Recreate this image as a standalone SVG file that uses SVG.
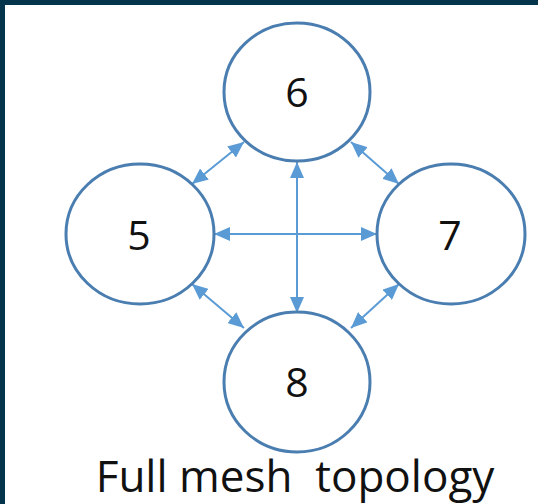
<svg xmlns="http://www.w3.org/2000/svg" width="538" height="504" viewBox="0 0 538 504">
<style>
.node{fill:#ffffff;stroke:#4a7db0;stroke-width:3}
.lbl{font-family:"Open Sans","Liberation Sans",sans-serif;font-size:41px;fill:#111111;text-anchor:middle}
.title{font-family:"Open Sans","Liberation Sans",sans-serif;font-size:44px;fill:#111111;text-anchor:middle}
.conn{stroke:#5b9bd5;stroke-width:2;fill:none;marker-start:url(#ah);marker-end:url(#ah)}
</style>
<defs>
<marker id="ah" viewBox="0 0 16 14" refX="16" refY="7" markerWidth="16" markerHeight="14" markerUnits="userSpaceOnUse" orient="auto-start-reverse">
<path d="M0,0 L16,7 L0,14 Z" fill="#5b9bd5"/>
</marker>
</defs>
<rect x="0" y="0" width="538" height="504" fill="#ffffff"/>
<rect x="0" y="0" width="538" height="5" fill="#04344c"/>
<rect x="0" y="0" width="5" height="504" fill="#04344c"/>
<g id="connectors">
<line class="conn" x1="297" y1="162" x2="297" y2="313"/>
<line class="conn" x1="214" y1="234" x2="377" y2="234"/>
<line class="conn" x1="192" y1="184" x2="244" y2="142"/>
<line class="conn" x1="351" y1="142" x2="399" y2="184"/>
<line class="conn" x1="192" y1="284" x2="244" y2="328"/>
<line class="conn" x1="399" y1="284" x2="351" y2="328"/>
</g>
<g id="node6"><ellipse class="node" cx="297" cy="92" rx="73" ry="69"/><text class="lbl" x="297" y="107">6</text></g>
<g id="node5"><ellipse class="node" cx="140" cy="234" rx="74" ry="70"/><text class="lbl" x="139" y="250">5</text></g>
<g id="node7"><ellipse class="node" cx="451" cy="234" rx="74" ry="70"/><text class="lbl" x="450" y="250">7</text></g>
<g id="node8"><ellipse class="node" cx="297" cy="382" rx="73" ry="70"/><text class="lbl" x="297" y="397">8</text></g>
<text class="title" x="295" y="492" xml:space="preserve">Full mesh  topology</text>
</svg>
